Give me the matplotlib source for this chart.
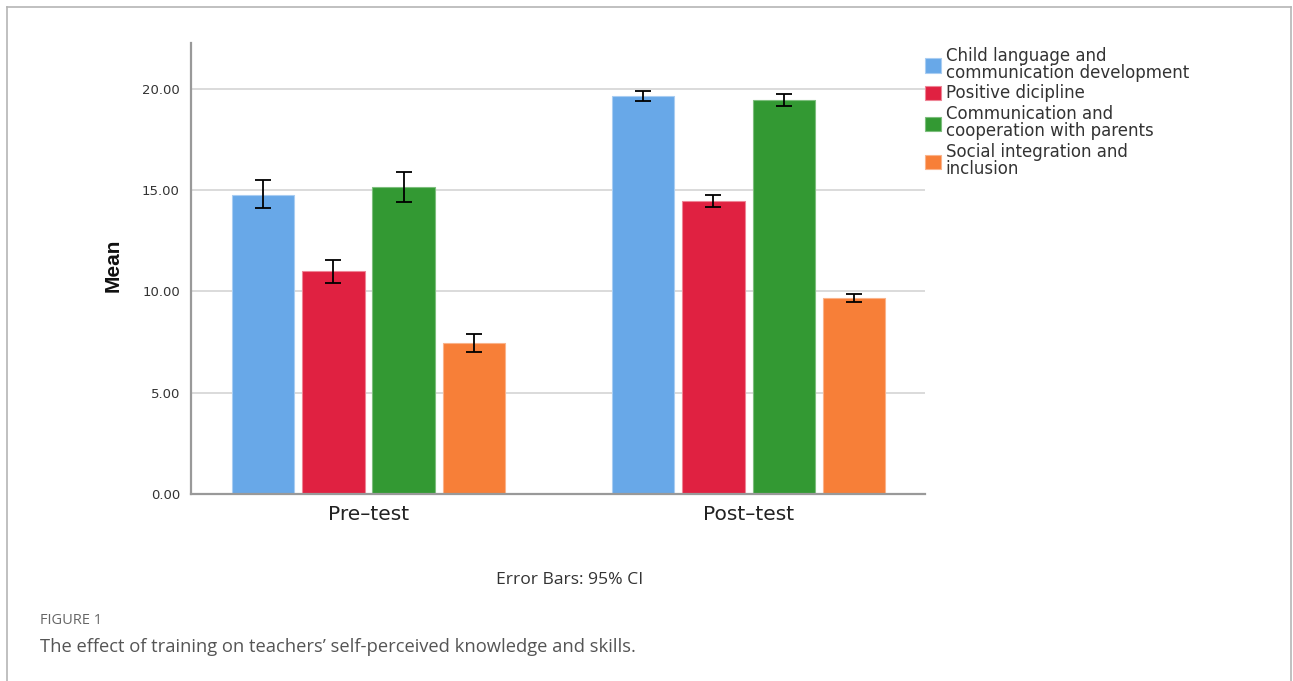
"""
Grouped bar chart of mean scores before and after training, with 95% CI error bars.
"""

import numpy as np
import matplotlib.pyplot as plt
from matplotlib.lines import Line2D

# Test occasions and the four skill areas
occasions = ["Pre\u2013test", "Post\u2013test"]
areas = [
    "Child language and\ncommunication development",
    "Positive dicipline",
    "Communication and\ncooperation with parents",
    "Social integration and\ninclusion",
]

# Means per area, [pre, post]
means_language = [14.77, 19.64]
means_discipline = [10.98, 14.44]
means_parents = [15.14, 19.43]
means_inclusion = [7.44, 9.66]

# 95% CI bounds per area, [pre, post]
ci_low_language = [14.10, 19.39]
ci_high_language = [15.47, 19.88]
ci_low_discipline = [10.43, 14.17]
ci_high_discipline = [11.54, 14.74]
ci_low_parents = [14.43, 19.14]
ci_high_parents = [15.88, 19.75]
ci_low_inclusion = [7.00, 9.46]
ci_high_inclusion = [7.89, 9.87]

COLORS = ["#68A8E8", "#E02141", "#339933", "#F77F38"]
EDGES = ["#A9CDF2", "#EE8596", "#7DBE7D", "#FAB38A"]


def main():
    plt.rcParams["font.family"] = ["DejaVu Sans"]
    fig = plt.figure(figsize=(12.93, 6.81), dpi=100)

    # thin frame round the whole figure, open at the bottom
    frame_color = "#b5b5b5"
    x0, x1 = 7 / 1293, 1291 / 1293
    y_top = 1 - 7 / 681
    fig.add_artist(Line2D([x0, x1], [y_top, y_top], color=frame_color, lw=1.2))
    fig.add_artist(Line2D([x0, x0], [0, y_top], color=frame_color, lw=1.2))
    fig.add_artist(Line2D([x1, x1], [0, y_top], color=frame_color, lw=1.2))

    ax = fig.add_axes([191 / 1293, 1 - 494 / 681, (925 - 191) / 1293, (494 - 43) / 681])

    means = [means_language, means_discipline, means_parents, means_inclusion]
    lows = [ci_low_language, ci_low_discipline, ci_low_parents, ci_low_inclusion]
    highs = [ci_high_language, ci_high_discipline, ci_high_parents, ci_high_inclusion]

    x = np.arange(len(occasions))
    step = 0.185
    width = 0.1645
    for i, (m, lo, hi) in enumerate(zip(means, lows, highs)):
        pos = x + (i - 1.5) * step
        m = np.array(m)
        err = np.vstack([m - np.array(lo), np.array(hi) - m])
        ax.bar(pos, m, width=width, color=COLORS[i], edgecolor=EDGES[i],
               linewidth=0.8, label=areas[i], zorder=2)
        ax.errorbar(pos, m, yerr=err, fmt="none", ecolor="black",
                    elinewidth=1.3, capsize=6, capthick=1.3, zorder=3)

    ax.set_xlim(-0.467, 1.464)
    ax.set_ylim(0, 22.25)
    ax.set_yticks([0, 5, 10, 15, 20])
    ax.set_yticklabels([f"{v:.2f}" for v in [0, 5, 10, 15, 20]])
    ax.set_xticks(x)
    ax.set_xticklabels(occasions, fontsize=14.5, color="#222222")
    ax.tick_params(axis="y", length=0, pad=8, labelsize=9.5, labelcolor="#333333")
    ax.tick_params(axis="x", length=0, pad=8)
    ax.yaxis.grid(True, color="#d4d4d4", linewidth=1.2, zorder=0)
    ax.set_axisbelow(True)

    for side in ["top", "right"]:
        ax.spines[side].set_visible(False)
    for side in ["left", "bottom"]:
        ax.spines[side].set_color("#999999")
        ax.spines[side].set_linewidth(1.6)

    fig.text(113.5 / 1293, 1 - 265.5 / 681, "Mean", rotation=90, ha="center",
             va="center", fontsize=15, fontweight="bold", family="Liberation Sans",
             color="#111111")

    leg = ax.legend(loc="upper left", bbox_to_anchor=(918 / 1293, 1 - 40 / 681),
                    bbox_transform=fig.transFigure, frameon=False, fontsize=12,
                    handlelength=1.0, handleheight=0.95, handletextpad=0.25,
                    labelspacing=0.15, borderaxespad=0, labelcolor="#333333")
    for t in leg.get_texts():
        t.set_linespacing(0.95)

    fig.text(570 / 1293, 1 - 580 / 681, "Error Bars: 95% CI", ha="center",
             va="center", fontsize=12.6, family="Open Sans", color="#333333")
    fig.text(40 / 1293, 1 - 620 / 681, "FIGURE 1", ha="left", va="center",
             fontsize=10.5, family="Open Sans", color="#666666")
    fig.text(40 / 1293, 1 - 647 / 681,
             "The effect of training on teachers\u2019 self-perceived knowledge and skills.",
             ha="left", va="center", fontsize=13.2, family="Open Sans", color="#555555")

    fig.savefig("out.png", dpi=100, facecolor="white")


if __name__ == "__main__":
    main()
